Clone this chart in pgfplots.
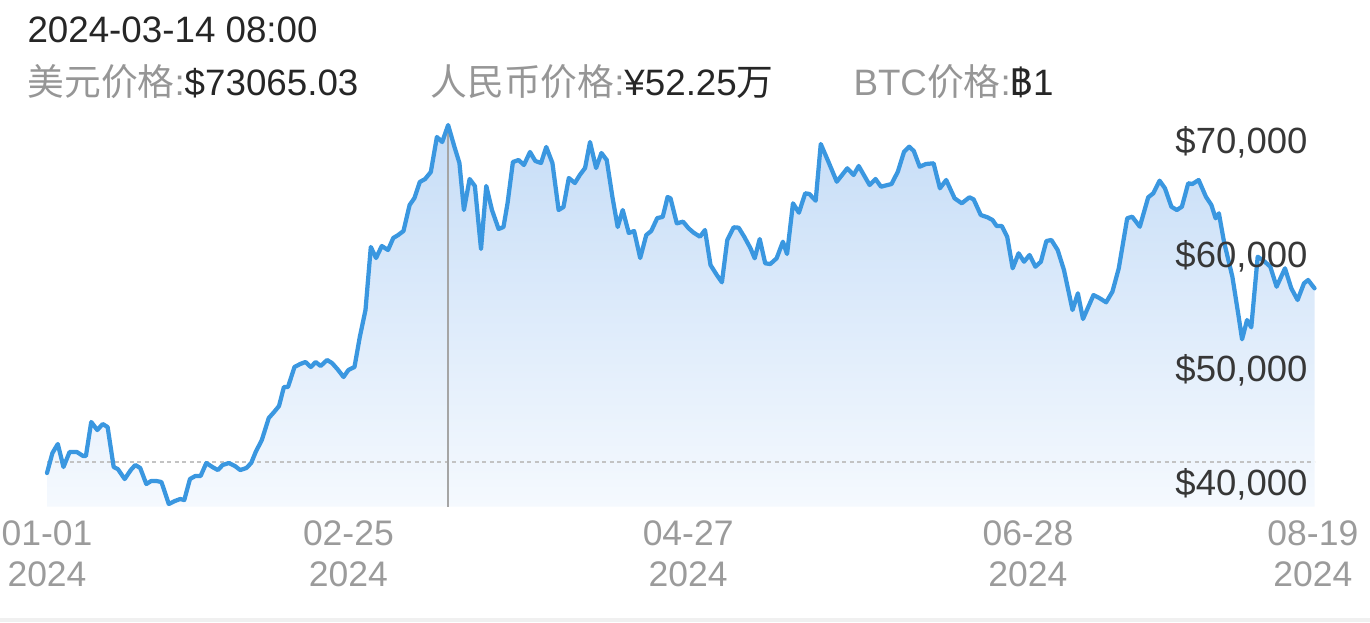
\documentclass[border=0pt]{standalone}
\usepackage{fontspec}
\setmainfont{Liberation Sans}
\newfontfamily\cjk{Noto Sans CJK SC}
\newfontfamily\thaifont[Script=Thai]{Loma}
\usepackage{pgfplots}
\usepackage{pgfplotstable}
\pgfplotsset{compat=1.18}
\definecolor{btcline}{RGB}{58,151,224}
\definecolor{filltop}{RGB}{198,221,247}
\definecolor{fillbot}{RGB}{245,249,254}
\definecolor{lblgray}{RGB}{150,150,150}
\definecolor{valdark}{RGB}{38,38,38}
\definecolor{ticklbl}{RGB}{155,155,155}
\definecolor{ylbl}{RGB}{55,55,55}
\definecolor{dashgray}{RGB}{195,195,195}
\definecolor{cursor}{RGB}{165,165,165}
\pgfplotstableread{
d v
0.00 42463
0.99 44222
1.97 45013
3.01 42990
4.12 44310
5.46 44310
6.59 43958
7.10 43958
8.07 46948
9.18 46244
10.16 46772
11.06 46508
12.17 42990
12.92 42814
14.18 41935
15.29 42726
16.11 43166
17.01 42902
18.12 41495
19.01 41759
19.98 41759
20.88 41671
22.23 39736
23.34 40000
24.31 40176
25.05 40088
26.09 41935
27.06 42199
28.03 42199
29.07 43342
30.18 42990
31.17 42726
32.06 43166
33.18 43342
34.29 43078
35.26 42726
36.37 42902
37.26 43342
38.08 44310
39.20 45365
40.47 47300
41.44 47828
42.34 48355
43.23 50026
43.98 50026
45.16 51785
46.20 52049
47.17 52225
48.14 51785
49.03 52225
49.93 51873
51.11 52401
52.01 52137
53.14 51521
54.11 50906
55.00 51521
56.11 51785
57.08 54424
58.12 56798
59.09 62339
60.05 61372
61.09 62427
62.23 62075
63.19 63131
64.09 63395
65.05 63747
66.17 66033
67.06 66649
68.03 68056
69.00 68320
70.04 68936
71.15 72014
72.12 71574
73.20 73065
74.36 71134
75.26 69727
76.08 65593
77.12 68320
78.08 67704
79.20 62163
80.16 67704
81.20 65593
82.41 63923
83.30 64099
84.05 66209
85.02 69815
86.06 69991
87.03 69551
88.14 70694
89.11 69903
90.15 69727
91.11 71134
92.23 69727
93.36 65593
94.25 65857
95.22 68408
96.33 67968
97.23 68672
98.19 69288
99.09 71574
100.20 69288
101.17 70607
102.14 69991
103.18 66737
104.14 64099
105.06 65593
106.17 63571
107.14 63747
108.25 61372
109.36 63395
110.26 63747
111.37 64890
112.35 64978
113.25 66737
113.78 66622
114.93 64424
116.08 64564
117.08 63984
118.01 63597
119.16 63245
120.07 63834
121.08 60756
122.23 59877
123.16 59235
124.14 62955
125.31 64072
126.22 64037
127.23 63245
128.38 62225
129.14 61345
130.06 63043
131.06 60906
131.99 60844
133.14 61345
134.29 62805
135.05 61723
136.13 66183
137.21 65356
138.36 67062
139.12 67000
140.27 66411
141.20 71398
142.59 69842
144.12 68082
146.04 69261
147.19 68672
148.12 69463
150.11 67792
151.19 68320
152.19 67643
154.11 67880
155.26 68962
156.40 70721
157.34 71161
158.18 70783
159.25 69402
160.40 69639
161.79 69700
162.94 67502
164.09 68232
165.62 66622
166.93 66183
168.32 66710
169.09 66534
170.40 65154
171.62 64951
172.54 64714
173.30 64186
174.23 64186
175.22 63245
176.22 60466
177.30 61785
178.30 61046
179.29 61636
180.36 60607
181.37 61046
182.37 62867
183.28 62955
184.43 62075
185.58 60316
187.14 56798
188.12 58267
189.05 56007
190.97 58118
192.12 57828
193.27 57476
194.42 58408
195.58 60466
197.12 64864
198.03 65004
199.42 64124
200.95 66710
201.88 67062
203.03 68171
204.01 67502
205.18 65884
206.17 65593
207.10 65884
208.25 67942
209.01 67880
210.16 68232
211.48 66763
212.48 66033
213.25 64864
213.85 65303
214.78 62805
216.31 59727
217.46 56209
218.08 54221
218.99 55919
219.76 55277
220.93 61486
222.23 61046
223.23 60607
224.38 58847
225.91 60466
227.06 58707
228.21 57678
229.38 59147
230.13 59437
231.30 58707
}\btc
\begin{document}
\begin{tikzpicture}
\begin{axis}[
  at={(18.8pt,46.12pt)}, anchor=south west,
  scale only axis, width=507pt, height=154.64pt,
  xmin=0, xmax=231.3, ymin=39500, ymax=73500,
  clip=false,
  axis on top,
  axis line style={draw=none},
  major tick length=0pt,
  scaled y ticks=false,
  scaled x ticks=false,
  /pgf/number format/assume math mode=true,
  xtick={0,55,117,179,231},
  xticklabels={{01-01\\2024},{02-25\\2024},{04-27\\2024},{06-28\\2024},{08-19\\2024}},
  xticklabel style={align=center, font=\fontsize{14.2}{16.4}\selectfont, text=ticklbl, yshift=-2pt},
  ytick={40000,50000,60000,70000},
  yticklabels={{\$40,000},{\$50,000},{\$60,000},{\$70,000}},
  yticklabel pos=right,
  yticklabel style={anchor=base east, font=\fontsize{14.6}{16}\selectfont, text=ylbl, xshift=0.7pt, yshift=2.4pt},
]
\addplot[draw=none, top color=filltop, bottom color=fillbot] table[x=d, y=v] {\btc} \closedcycle;
\addplot[dashgray, line width=0.8pt, dash pattern=on 1.6pt off 1.4pt] coordinates {(0,43430) (231.3,43430)};
\addplot[cursor, line width=0.6pt] coordinates {(73.2,39500) (73.2,73065)};
\addplot[btcline, line width=1.7pt, line join=round, line cap=round] table[x=d, y=v] {\btc};
\end{axis}
\fill[black!6] (0,0) rectangle (548pt,1.6pt);
\node[anchor=base west, inner sep=0pt, text=valdark, font=\fontsize{14.7}{17}\selectfont] at (10.8pt,231.6pt) {2024-03-14 08:00};
\node[anchor=base west, inner sep=0pt, font=\fontsize{14.7}{17}\selectfont] at (10.8pt,210.4pt) {\textcolor{lblgray}{{\cjk 美元价格}:}\textcolor{valdark}{\$73065.03}};
\node[anchor=base west, inner sep=0pt, font=\fontsize{14.7}{17}\selectfont] at (172pt,210.4pt) {\textcolor{lblgray}{{\cjk 人民币价格}:}\textcolor{valdark}{¥52.25{\cjk 万}}};
\node[anchor=base west, inner sep=0pt, font=\fontsize{14.7}{17}\selectfont] at (341.2pt,210.4pt) {\textcolor{lblgray}{BTC{\cjk 价格}:}\textcolor{valdark}{{\thaifont ฿}1}};
\pgfresetboundingbox
\path[use as bounding box] (0,0) rectangle (548pt,248.8pt);
\end{tikzpicture}
\end{document}
